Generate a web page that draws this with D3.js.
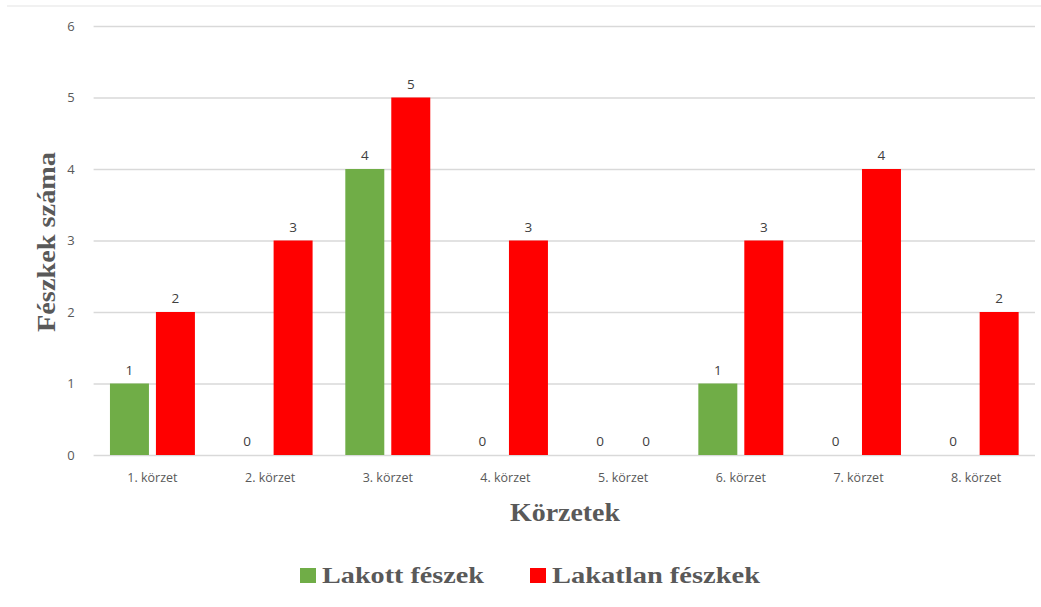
<!DOCTYPE html>
<html><head><meta charset="utf-8">
<script src="https://cdn.jsdelivr.net/npm/d3@7"></script>
<style>body{margin:0;background:#fff}svg{display:block}</style>
</head><body>
<svg id="c" width="1041" height="607"></svg>
<script>
const categories = ["1. körzet","2. körzet","3. körzet","4. körzet","5. körzet","6. körzet","7. körzet","8. körzet"];
const seriesNames = ["Lakott fészek","Lakatlan fészkek"];
const lakott = [1,0,4,0,0,1,0,0];
const lakatlan = [2,3,5,3,0,3,4,2];
const yTicks = [0,1,2,3,4,5,6];
const colors = ["#70AD47","#FF0000"];

(function(){
const svg = d3.select("#c");
const pL = 93.6, pR = 1035, pT = 26, pB = 455;
const x0 = d3.scaleBand().domain(categories).range([pL,pR]).paddingInner(0.278).paddingOuter(0.139);
const x1 = d3.scaleBand().domain(seriesNames).range([0,x0.bandwidth()]).paddingInner(0.152);
const y = d3.scaleLinear().domain([0,6]).range([pB,pT]);

svg.append("line").attr("x1",7).attr("x2",1041).attr("y1",6).attr("y2",6).attr("stroke","#ececec").attr("stroke-width",1.5);

const yAxis = d3.axisLeft(y).tickValues(yTicks).tickFormat(d3.format("d")).tickSize(-(pR-pL)).tickPadding(19);
const ga = svg.append("g").attr("transform",`translate(${pL},0)`).call(yAxis);
ga.select(".domain").remove();
ga.selectAll(".tick line").attr("stroke","#d9d9d9").attr("stroke-width",1.3);
ga.selectAll(".tick text").attr("fill","#595959").style("font-family","'Open Sans',sans-serif").style("font-size","13px");

const xAxis = d3.axisBottom(x0).tickSize(0).tickPadding(18);
const gx = svg.append("g").attr("transform",`translate(0,${pB})`).call(xAxis);
gx.select(".domain").remove();
gx.selectAll(".tick text").attr("fill","#595959").style("font-family","'Open Sans',sans-serif").style("font-size","12.5px");

const data = [lakott, lakatlan];
const groups = svg.append("g");
categories.forEach((c,i)=>{
  seriesNames.forEach((s,j)=>{
    const v = data[j][i];
    const bx = x0(c)+x1(s);
    if (v>0) groups.append("rect").attr("x",bx).attr("y",y(v)).attr("width",x1.bandwidth()).attr("height",y(0)-y(v)).attr("fill",colors[j]);
    groups.append("text").attr("x",bx+x1.bandwidth()/2).attr("y",y(v)-9).attr("text-anchor","middle")
      .attr("fill","#404040").style("font-family","'Open Sans',sans-serif").style("font-size","13.5px").text(v);
  });
});

const serif = "'Liberation Serif',serif";
svg.append("text").attr("transform","translate(55,242) rotate(-90)").attr("text-anchor","middle")
  .attr("fill","#595959").style("font-family",serif).style("font-weight","bold").style("font-size","26px")
  .attr("textLength",180).attr("lengthAdjust","spacingAndGlyphs").text("Fészkek száma");
svg.append("text").attr("x",565).attr("y",521).attr("text-anchor","middle")
  .attr("fill","#595959").style("font-family",serif).style("font-weight","bold").style("font-size","26px")
  .attr("textLength",110).attr("lengthAdjust","spacingAndGlyphs").text("Körzetek");

const legendX = [300,530];
const legendW = [162,208];
seriesNames.forEach((s,j)=>{
  svg.append("rect").attr("x",legendX[j]).attr("y",568).attr("width",16).attr("height",15).attr("fill",colors[j]);
  svg.append("text").attr("x",legendX[j]+22).attr("y",583).attr("fill","#595959")
    .style("font-family",serif).style("font-weight","bold").style("font-size","23px")
    .attr("textLength",legendW[j]).attr("lengthAdjust","spacingAndGlyphs").text(s);
});
})();
</script>
</body></html>
